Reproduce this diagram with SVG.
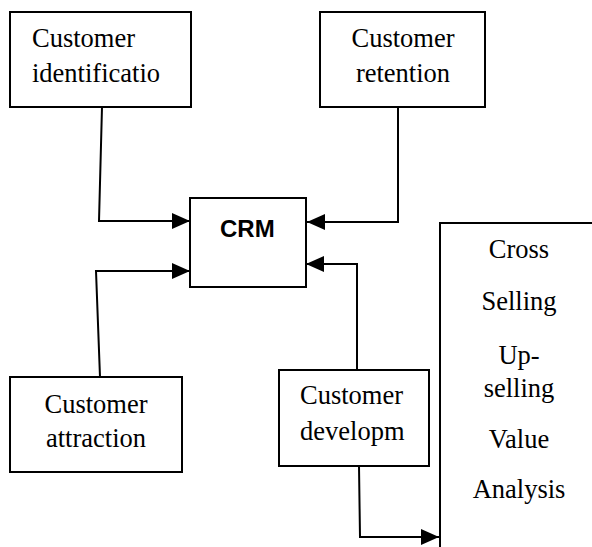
<svg xmlns="http://www.w3.org/2000/svg" width="592" height="547" viewBox="0 0 592 547">
<defs>
<marker id="ah" markerWidth="18" markerHeight="16" refX="18" refY="8" orient="auto" markerUnits="userSpaceOnUse">
<path d="M0,0 L18,8 L0,16 Z" fill="#000"/>
</marker>
<style>
.box{fill:#fff;stroke:#000;stroke-width:2}
.t{font-family:'Liberation Serif','Times New Roman',serif;font-size:26.5px;fill:#000}
.c{text-anchor:middle}
.crm{font-family:'Liberation Sans',Arial,sans-serif;font-size:24px;font-weight:bold;fill:#000}
.ln{fill:none;stroke:#000;stroke-width:2}
</style>
</defs>
<rect width="592" height="547" fill="#fff"/>
<g id="connectors">
<path class="ln" d="M102,107 L99,221 L190,221" marker-end="url(#ah)"/>
<path class="ln" d="M100,377 L96,271 L190,271" marker-end="url(#ah)"/>
<path class="ln" d="M398,107 L398,222 L307,222" marker-end="url(#ah)"/>
<path class="ln" d="M357,370 L357,264 L306,264" marker-end="url(#ah)"/>
<path class="ln" d="M359,466 L360,537 L439,537" marker-end="url(#ah)"/>
</g>
<g id="identification">
<rect class="box" x="10" y="12" width="181" height="95"/>
<text class="t" x="32" y="47">Customer</text>
<text class="t" x="32" y="82">identificatio</text>
</g>
<g id="retention">
<rect class="box" x="320" y="12" width="165" height="95"/>
<text class="t c" x="403" y="47">Customer</text>
<text class="t c" x="403" y="82">retention</text>
</g>
<g id="crm">
<rect class="box" x="190" y="198" width="116" height="89"/>
<text class="crm" x="220" y="237">CRM</text>
</g>
<g id="attraction">
<rect class="box" x="10" y="377" width="172" height="95"/>
<text class="t c" x="96" y="413">Customer</text>
<text class="t c" x="96" y="447">attraction</text>
</g>
<g id="development">
<rect class="box" x="279" y="370" width="150" height="96"/>
<text class="t" x="300" y="404">Customer</text>
<text class="t" x="300" y="440">developm</text>
</g>
<g id="cross-selling">
<rect class="box" x="440" y="223" width="170" height="340"/>
<text class="t c" x="519" y="258">Cross</text>
<text class="t c" x="519" y="310">Selling</text>
<text class="t c" x="519" y="364">Up-</text>
<text class="t c" x="519" y="397">selling</text>
<text class="t c" x="519" y="448">Value</text>
<text class="t c" x="519" y="498">Analysis</text>
</g>
</svg>
